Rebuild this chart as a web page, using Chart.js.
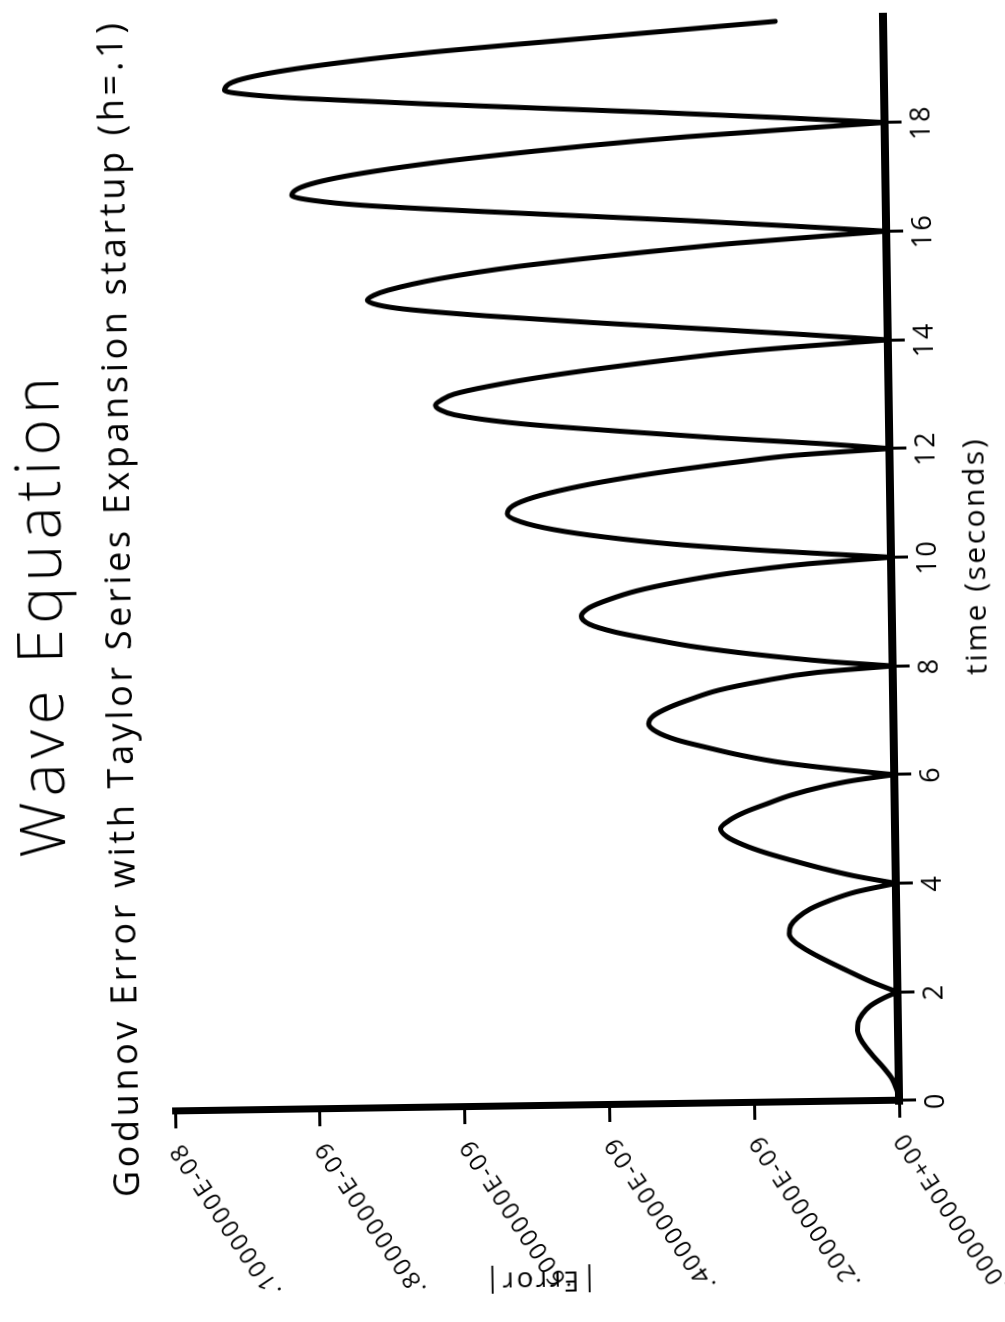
<!DOCTYPE html>
<html>
<head>
<meta charset="utf-8">
<title>Wave Equation</title>
<script src="https://cdn.jsdelivr.net/npm/chart.js@4.4.1/dist/chart.umd.min.js"></script>
<style>
  html, body { margin: 0; padding: 0; background: #fff; overflow: hidden; }
  body { width: 1005px; height: 1322px; position: relative; }
  /* the plot is laid out landscape and turned onto the portrait page */
  #plot {
    position: absolute;
    width: 1322px; height: 1005px;
    left: -158.5px; top: 158.5px;
    transform: rotate(-90.85deg);
  }
</style>
</head>
<body>
<div id="plot"><canvas id="waveChart" width="1322" height="1005"></canvas></div>
<script>
const FONT = "'Open Sans', 'Liberation Sans', sans-serif";

const timeTicks = [0, 2, 4, 6, 8, 10, 12, 14, 16, 18];
const errorTicks = [0, 0.2, 0.4, 0.6, 0.8, 1.0];
const errorTickLabels = ['.0000000E+00', '.2000000E-09', '.4000000E-09',
                         '.6000000E-09', '.8000000E-09', '.1000000E-08'];

// |Error| against time (s); errors are in units of 1e-9
const times = [
  0, 0.2, 0.4, 0.6, 0.8, 1.0, 1.15, 1.3, 1.45, 1.6, 1.75, 1.9, 2.0,
  2.2, 2.4, 2.6, 2.8, 2.95, 3.1, 3.25, 3.4, 3.55, 3.7, 3.85, 4.0,
  4.15, 4.3, 4.45, 4.6, 4.75, 4.9, 5.05, 5.2, 5.35, 5.5, 5.65, 5.8, 5.9, 6.0,
  6.1, 6.25, 6.4, 6.55, 6.7, 6.85, 7.0, 7.15, 7.3, 7.45, 7.6, 7.75, 7.9, 8.0,
  8.1, 8.25, 8.4, 8.55, 8.7, 8.85, 9.0, 9.15, 9.3, 9.45, 9.6, 9.75, 9.9, 10.0,
  10.15, 10.3, 10.45, 10.6, 10.75, 10.9, 11.05, 11.2, 11.35, 11.5, 11.65, 11.8, 11.9, 12.0,
  12.11, 12.24, 12.39, 12.56, 12.74, 12.83, 12.92, 13.02, 13.12, 13.25, 13.44, 13.66, 13.84, 14.0,
  14.12, 14.25, 14.4, 14.55, 14.7, 14.78, 14.87, 14.96, 15.05, 15.25, 15.45, 15.65, 15.82, 16.0,
  16.12, 16.25, 16.47, 16.62, 16.72, 16.82, 17.0, 17.21, 17.48, 17.79, 18.0,
  18.12, 18.25, 18.45, 18.6, 18.69, 18.77, 18.95, 19.15, 19.4, 19.65, 19.89
];
const errors = [
  0, 0.003, 0.009, 0.020, 0.033, 0.045, 0.052, 0.056, 0.055, 0.049, 0.038, 0.018, 0,
  0.037, 0.068, 0.098, 0.125, 0.141, 0.148, 0.146, 0.136, 0.119, 0.092, 0.056, 0,
  0.058, 0.103, 0.143, 0.180, 0.210, 0.232, 0.241, 0.229, 0.207, 0.176, 0.143, 0.098, 0.058, 0,
  0.068, 0.154, 0.212, 0.258, 0.300, 0.327, 0.338, 0.331, 0.309, 0.278, 0.241, 0.183, 0.105, 0,
  0.090, 0.190, 0.270, 0.330, 0.383, 0.418, 0.429, 0.418, 0.390, 0.352, 0.296, 0.223, 0.116, 0,
  0.165, 0.300, 0.395, 0.465, 0.510, 0.529, 0.521, 0.492, 0.444, 0.381, 0.302, 0.206, 0.132, 0,
  0.095, 0.233, 0.370, 0.510, 0.600, 0.619, 0.626, 0.617, 0.600, 0.554, 0.463, 0.325, 0.188, 0,
  0.115, 0.251, 0.409, 0.553, 0.668, 0.703, 0.718, 0.709, 0.689, 0.617, 0.510, 0.359, 0.208, 0,
  0.130, 0.276, 0.555, 0.723, 0.790, 0.820, 0.800, 0.722, 0.554, 0.275, 0,
  0.146, 0.319, 0.610, 0.802, 0.880, 0.911, 0.893, 0.811, 0.638, 0.392, 0.149
];

// break the line at every interior zero so each lobe keeps its sharp cusp
const points = [];
times.forEach((t, i) => {
  points.push({ x: t, y: errors[i] });
  if (errors[i] === 0 && i > 0 && i < times.length - 1) {
    points.push({ x: t, y: null });
    points.push({ x: t, y: 0 });
  }
});

// draw text stretched to a given width, centred on cx
function spacedText(ctx, text, cx, baseline, width, font) {
  ctx.font = font;
  ctx.letterSpacing = '0px';
  const natural = ctx.measureText(text).width;
  const gap = (width - natural) / (text.length - 1);
  ctx.letterSpacing = gap + 'px';
  ctx.textAlign = 'left';
  ctx.textBaseline = 'alphabetic';
  ctx.fillText(text, cx - width / 2, baseline);
}

const lettering = {
  id: 'lettering',
  beforeDraw(chart) {
    chart.ctx.letterSpacing = '2.5px';
  },
  afterDraw(chart) {
    const ctx = chart.ctx;
    ctx.save();
    ctx.fillStyle = '#000';
    spacedText(ctx, 'Wave Equation', 712, 62, 480, `300 62px ${FONT}`);
    spacedText(ctx, 'Godunov Error with Taylor Series Expansion startup (h=.1)',
               718, 131, 1174, `400 36px ${FONT}`);
    ctx.restore();
    ctx.letterSpacing = '0px';
  }
};

const ctx = document.getElementById('waveChart').getContext('2d');
const waveChart = new Chart(ctx, {
  type: 'line',
  data: {
    datasets: [{
      data: points,
      borderColor: '#000',
      borderWidth: 5,
      pointRadius: 0,
      cubicInterpolationMode: 'monotone',
      spanGaps: false,
      borderCapStyle: 'round',
      borderJoinStyle: 'round',
      clip: false
    }]
  },
  options: {
    responsive: false,
    animation: false,
    layout: { padding: { top: 168, right: 19, bottom: 0, left: 0 } },
    plugins: {
      legend: { display: false },
      tooltip: { enabled: false }
    },
    scales: {
      x: {
        type: 'linear',
        min: 0,
        max: 20,
        afterBuildTicks: s => { s.ticks = timeTicks.map(v => ({ value: v })); },
        afterFit: s => { s.height = 113; },
        border: { display: true, color: '#000', width: 8 },
        grid: { display: true, drawOnChartArea: false, drawTicks: true,
                tickLength: 17, tickWidth: 3, tickColor: '#000' },
        ticks: { color: '#000', autoSkip: false, maxRotation: 0, padding: 4,
                 font: { family: FONT, size: 27, weight: '400' } },
        title: { display: true, text: 'time (seconds)', color: '#000',
                 font: { family: FONT, size: 30, weight: '400' },
                 padding: { top: 0, bottom: 10 } }
      },
      y: {
        type: 'linear',
        min: 0,
        max: 1,
        afterBuildTicks: s => { s.ticks = errorTicks.map(v => ({ value: v })); },
        afterFit: s => { s.width = 216; },
        border: { display: true, color: '#000', width: 7 },
        grid: { display: true, drawOnChartArea: false, drawTicks: true,
                tickLength: 17, tickWidth: 3, tickColor: '#000' },
        ticks: { color: '#000', autoSkip: false, minRotation: 33, maxRotation: 33,
                 padding: 16, font: { family: FONT, size: 24, weight: '400' },
                 callback: (v, i) => errorTickLabels[i] },
        title: { display: true, text: '|Error|', color: '#000',
                 font: { family: FONT, size: 28, weight: '400' },
                 padding: { top: 25, bottom: 0 } }
      }
    }
  },
  plugins: [lettering]
});
</script>
</body>
</html>
